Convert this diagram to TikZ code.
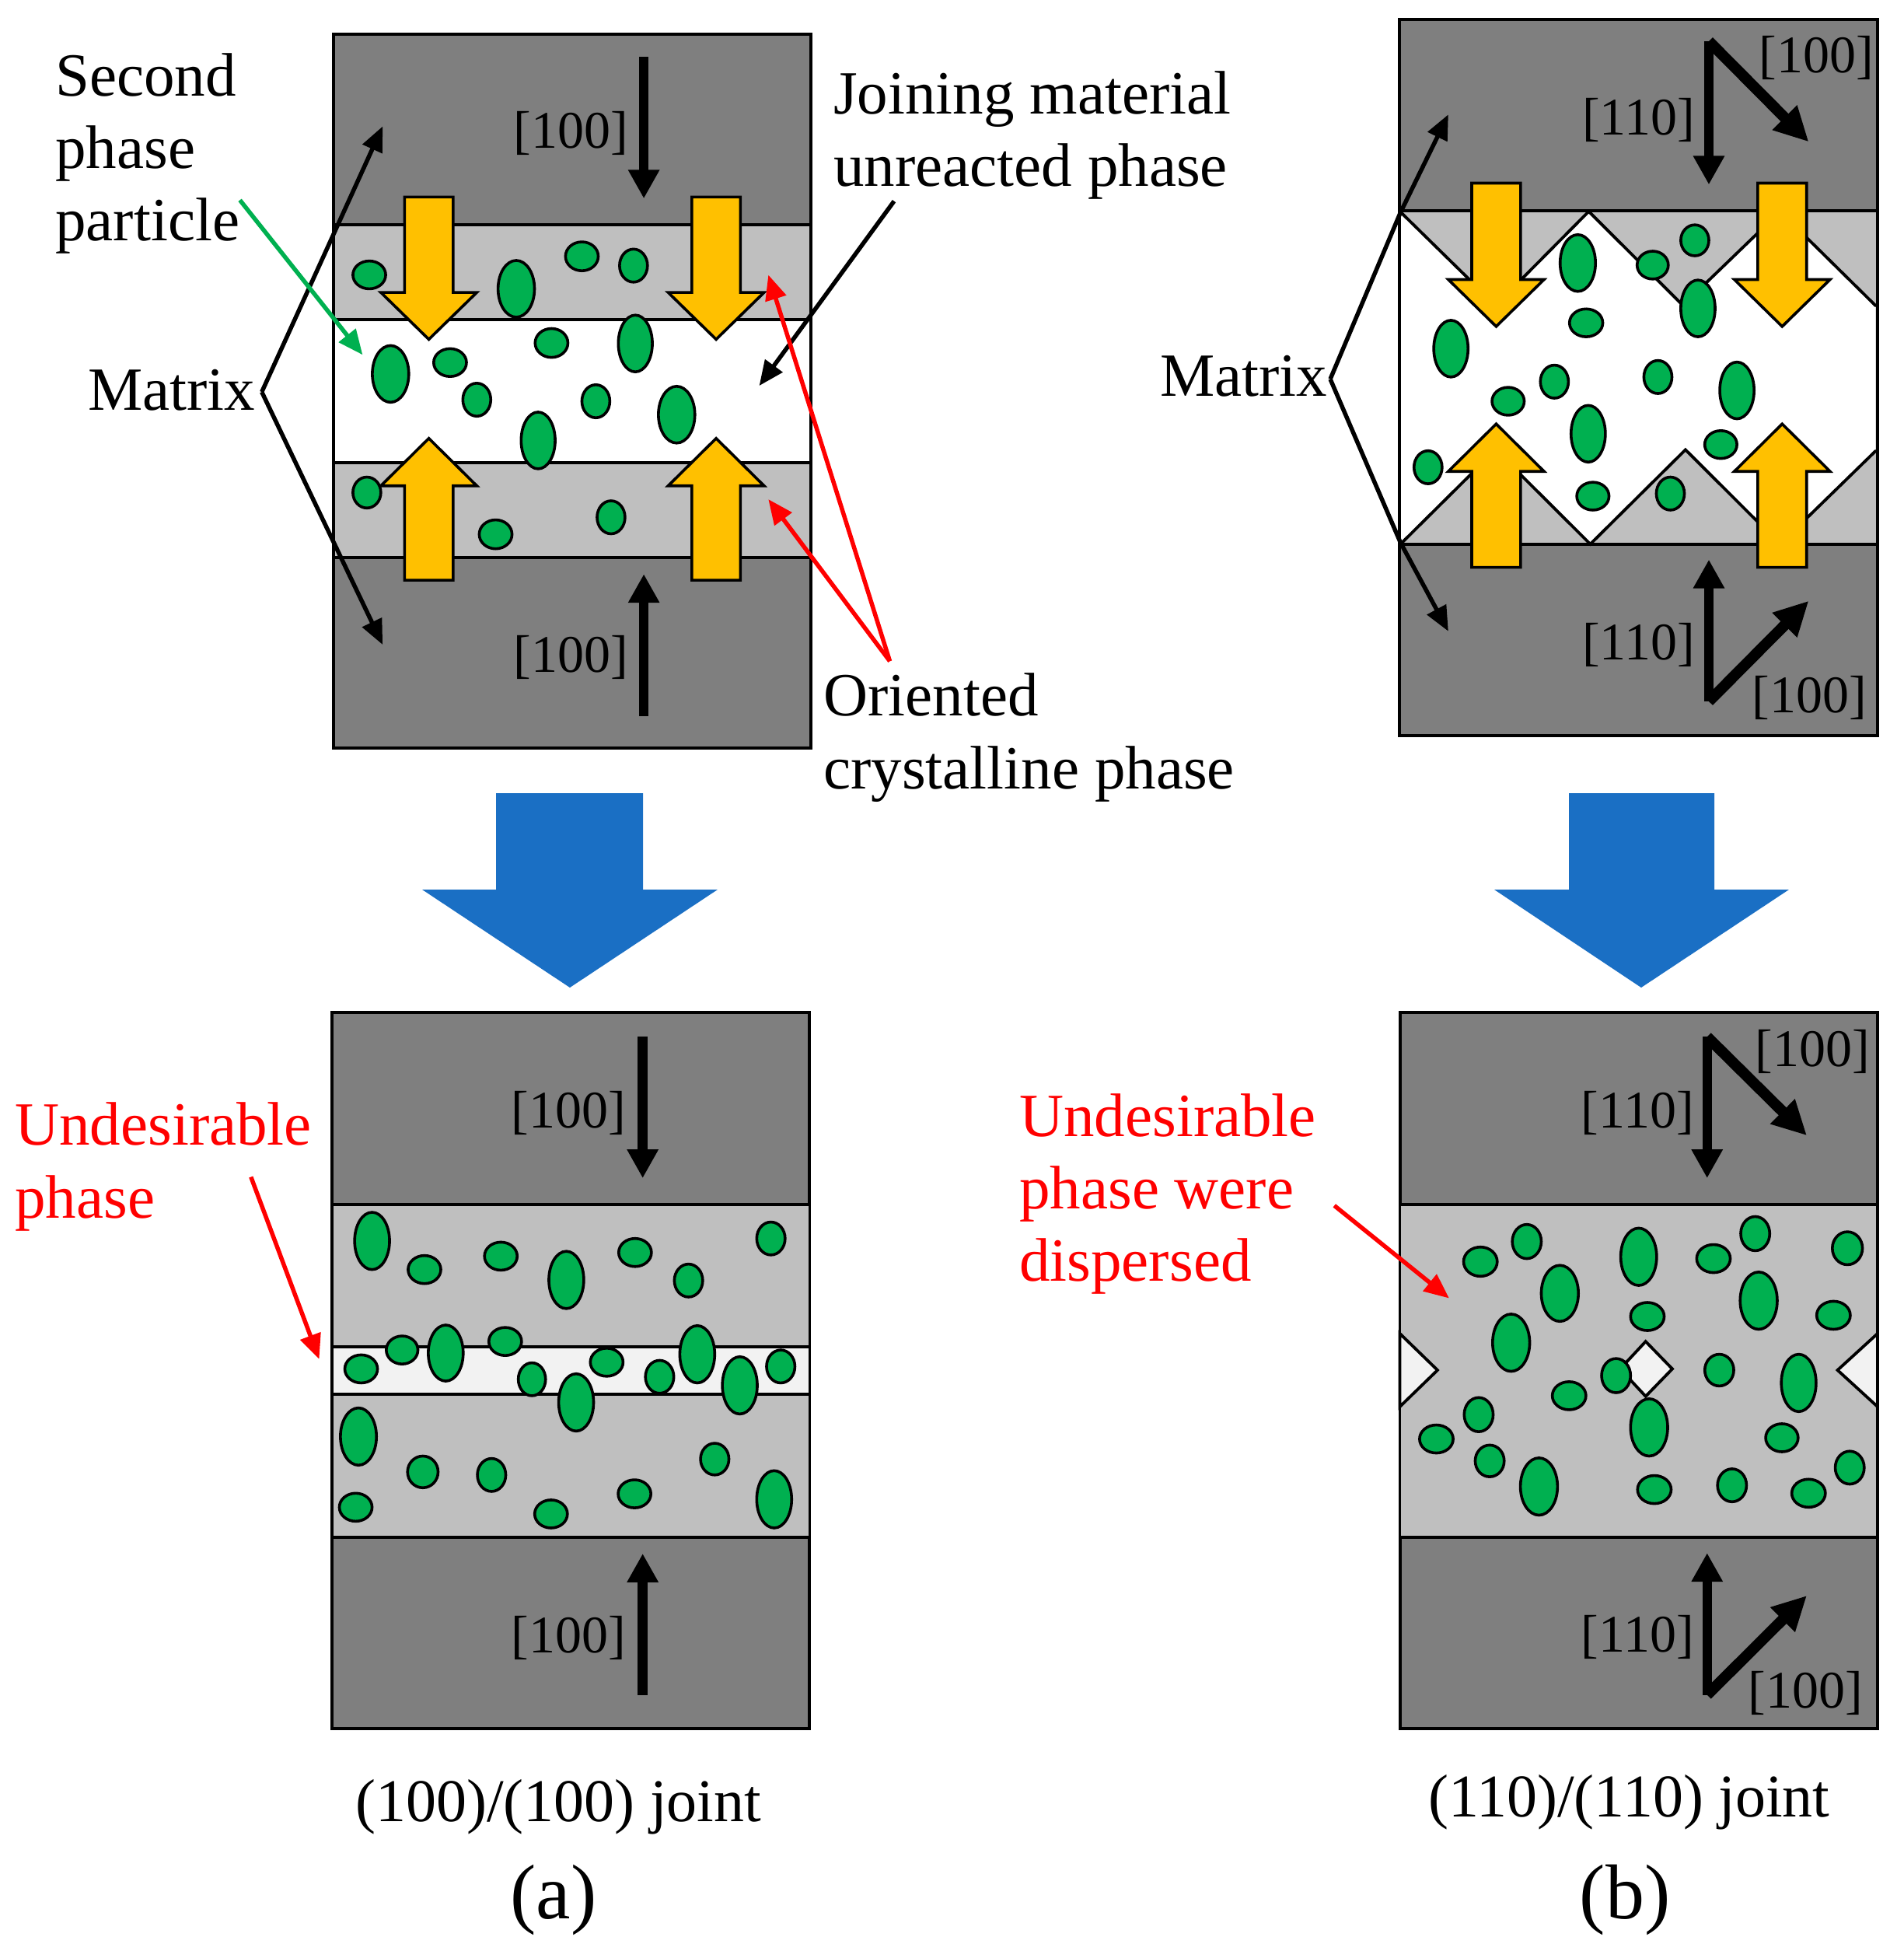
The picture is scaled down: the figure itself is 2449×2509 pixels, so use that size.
\documentclass[tikz,border=0pt]{standalone}
\usepackage{fontspec}
\setmainfont{Liberation Serif}
\usetikzlibrary{arrows.meta}
\definecolor{substrate}{HTML}{7F7F7F}
\definecolor{crystal}{HTML}{BFBFBF}
\definecolor{nearwhite}{HTML}{F2F2F2}
\definecolor{grain}{HTML}{00B050}
\definecolor{pressure}{HTML}{FFC000}
\definecolor{process}{HTML}{1A6FC4}
\definecolor{pure}{HTML}{FF0000}
\tikzset{
  panel/.style={draw=black,line width=4pt,fill=substrate},
  band/.style={draw=black,line width=3.8pt,fill=crystal},
  gap/.style={draw=black,line width=3.8pt,fill=white},
  grainshape/.style={draw=black,line width=3.6pt,fill=grain},
  press/.style={draw=black,line width=3.6pt,fill=pressure,line join=miter},
  bigarrow/.style={fill=process,draw=none},
  thick axis/.style={draw=black,line width=12.5pt,-{Triangle[length=37pt,width=38pt]}},
  diag axis/.style={draw=black,line width=14pt,-{Triangle[length=44pt,width=42pt]}},
  leader/.style={line width=5.5pt,-{Triangle[length=32pt,width=27pt]}},
  lab/.style={inner sep=0pt,anchor=base west,font=\fontsize{79}{94}\selectfont},
  dir/.style={inner sep=0pt,anchor=center,font=\fontsize{68}{80}\selectfont,text=black},
}
\begin{document}
\begin{tikzpicture}[x=1pt,y=-1pt]
\useasboundingbox[fill=white] (0,0) rectangle (2449,2509);

% ---------- panel (a) top ----------
\begin{scope}[x=0.78125pt,y=-0.66326pt]
\draw[panel] (549,66) rectangle (1335,1450);
\draw[band] (549,436) rectangle (1335,1081);
\draw[gap] (549,620) rectangle (1335,897);
\foreach \c in {706,1179}{
  \draw[press] (\c-40,382) -- (\c+40,382) -- (\c+40,567) -- (\c+79,567) -- (\c,658) -- (\c-79,567) -- (\c-40,567) -- cycle;
  \draw[press] (\c-40,1125) -- (\c+40,1125) -- (\c+40,942) -- (\c+79,942) -- (\c,850) -- (\c-79,942) -- (\c-40,942) -- cycle;
}
\foreach \x/\y/\a/\b in {608/533/27/27,850/560/30/55,958/497/27/28,1043/515/23/32,643/725/30/55,741/703/27/27,908/665/27/28,1046/666/28/55,785/775/23/32,981/778/23/32,1114/804/30/55,886/854/28/55,604/955/23/30,816/1036/27/28,1006/1003/23/32}
  \draw[grainshape] (\x,\y) ellipse [x radius=\a,y radius=\b];
\coordinate (a1d0) at (1060,110); \coordinate (a1d1) at (1060,385);
\coordinate (a1u0) at (1060,1388); \coordinate (a1u1) at (1060,1113);
\draw[thick axis] (a1d0) -- (a1d1);
\draw[thick axis] (a1u0) -- (a1u1);
\node[dir] (a1l1) at (940,258) {[100]};
\node[dir] (a1l2) at (940,1275) {[100]};
\coordinate (a1apex) at (431,760);
\coordinate (a1mt) at (630,245); \coordinate (a1mb) at (630,1250);
\draw[leader] (a1apex) -- (a1mt);
\draw[leader] (a1apex) -- (a1mb);
\coordinate (a1g0) at (395,388); \coordinate (a1g1) at (597,688);
\draw[leader,draw=grain,-{Triangle[length=32pt,width=27pt,fill=grain]}] (a1g0) -- (a1g1);
\coordinate (a1k0) at (1472,390); \coordinate (a1k1) at (1250,748);
\draw[leader] (a1k0) -- (a1k1);
\coordinate (a1r0) at (1465,1282); \coordinate (a1r1) at (1265,533); \coordinate (a1r2) at (1265,968);
\draw[leader,draw=pure,-{Triangle[length=32pt,width=27pt,fill=pure]}] (a1r0) -- (a1r1);
\draw[leader,draw=pure,-{Triangle[length=32pt,width=27pt,fill=pure]}] (a1r0) -- (a1r2);
\end{scope}

% ---------- panel (b) top ----------
\begin{scope}[xshift=1400pt,x=0.66890pt,y=-0.66326pt]
\draw[panel] (598,37) rectangle (1517,1427);
\draw[band] (598,409) rectangle (1517,1055);
\draw[gap,line join=miter] (598,409) -- (783,592) -- (962,410) -- (1143,592) -- (1330,410) -- (1513,592) -- (1517,592) -- (1517,875) -- (1513,875) -- (1330,1055) -- (1148,872) -- (965,1055) -- (783,872) -- (600,1055) -- (598,1055) -- cycle;
\foreach \c in {784,1334}{
  \draw[press] (\c-47,355) -- (\c+47,355) -- (\c+47,542) -- (\c+92,542) -- (\c,633) -- (\c-92,542) -- (\c-47,542) -- cycle;
  \draw[press] (\c-47,1100) -- (\c+47,1100) -- (\c+47,914) -- (\c+92,914) -- (\c,822) -- (\c-92,914) -- (\c-47,914) -- cycle;
}
\foreach \x/\y/\a/\b in {941/510/34/55,1166/466/27/30,1085/514/30/27,1172/598/33/55,957/626/32/27,697/676/33/55,896/740/27/32,807/778/31/27,1095/731/27/32,1247/757/33/55,961/841/33/55,1216/862/31/27,653/906/27/32,970/962/31/27,1119/957/27/32}
  \draw[grainshape] (\x,\y) ellipse [x radius=\a,y radius=\b];
\coordinate (b1o) at (1193,80); \coordinate (b1d) at (1193,358); \coordinate (b1e) at (1385,275);
\coordinate (b1p) at (1193,1360); \coordinate (b1u) at (1193,1085); \coordinate (b1f) at (1385,1165);
\draw[thick axis] (b1o) -- (b1d);
\draw[diag axis] (b1o) -- (b1e);
\draw[thick axis] (b1p) -- (b1u);
\draw[diag axis] (b1p) -- (b1f);
\node[dir] (b1l1) at (1400,113) {[100]};
\node[dir] (b1l2) at (1058,233) {[110]};
\node[dir] (b1l3) at (1058,1250) {[110]};
\node[dir] (b1l4) at (1386,1353) {[100]};
\coordinate (b1apex) at (465,735);
\coordinate (b1kt) at (600,412); \coordinate (b1kb) at (600,1052);
\coordinate (b1mt) at (692,222); \coordinate (b1mb) at (692,1224);
\draw[leader,line join=miter] (b1apex) -- (b1kt) -- (b1mt);
\draw[leader,line join=miter] (b1apex) -- (b1kb) -- (b1mb);
\end{scope}

% ---------- panel (a) bottom ----------
\begin{scope}[yshift=-1280pt,x=0.70175pt,y=-0.78370pt]
\draw[panel] (608,28) rectangle (1484,1203);
\draw[band] (608,343) rectangle (1484,889);
\draw[gap,fill=nearwhite] (608,577) rectangle (1484,655);
\foreach \x/\y/\a/\b in {682/403/32/47,778/450/30/23,918/428/30/23,1038/467/32/47,1164/422/30/23,1262/468/26/27,1413/399/26/27,662/613/30/23,737/582/29/23,817/587/32/46,926/568/30/23,975/630/25/27,1112/602/30/23,1209/626/26/27,1278/589/32/47,1356/640/32/47,1431/609/26/27,1056/668/32/47,657/724/33/47,775/782/28/26,901/787/26/27,652/840/30/23,1010/851/30/23,1163/818/30/23,1310/761/26/26,1419/827/32/47}
  \draw[grainshape] (\x,\y) ellipse [x radius=\a,y radius=\b];
\coordinate (a2d0) at (1178,68); \coordinate (a2d1) at (1178,300);
\coordinate (a2u0) at (1178,1148); \coordinate (a2u1) at (1178,916);
\draw[thick axis] (a2d0) -- (a2d1);
\draw[thick axis] (a2u0) -- (a2u1);
\node[dir] (a2l1) at (1042,193) {[100]};
\node[dir] (a2l2) at (1042,1055) {[100]};
\coordinate (a2r0) at (460,298); \coordinate (a2r1) at (585,597);
\draw[leader,draw=pure,-{Triangle[length=32pt,width=27pt,fill=pure]}] (a2r0) -- (a2r1);
\end{scope}

% ---------- panel (b) bottom ----------
\begin{scope}[xshift=1280pt,yshift=-1280pt,x=0.74571pt,y=-0.78370pt]
\draw[panel] (698,28) rectangle (1522,1203);
\draw[band] (698,343) rectangle (1522,889);
\draw[gap,fill=nearwhite,line join=miter] (698,555) -- (763,615) -- (698,675) -- cycle;
\draw[gap,fill=nearwhite,line join=miter] (1522,555) -- (1453,615) -- (1522,675) -- cycle;
\draw[gap,fill=nearwhite,line join=miter] (1122,568) -- (1168,613) -- (1122,658) -- (1078,613) -- cycle;
\foreach \x/\y/\a/\b in {837/437/29/24,917/404/25/28,974/489/32/46,890/570/32/47,1110/429/31/47,1125/527/29/23,1239/432/29/23,1311/391/25/28,1470/415/26/27,1317/501/32/47,1446/525/29/23,1249/615/25/26,1386/636/30/47,1071/624/25/28,990/657/29/23,834/688/25/28,761/728/29/23,853/764/25/26,1128/709/32/47,938/806/32/47,1137/811/29/23,1271/804/25/27,1357/726/28/23,1403/817/29/23,1474/775/25/27}
  \draw[grainshape] (\x,\y) ellipse [x radius=\a,y radius=\b];
\coordinate (b2o) at (1228,68); \coordinate (b2d) at (1228,300); \coordinate (b2e) at (1400,230);
\coordinate (b2p) at (1228,1148); \coordinate (b2u) at (1228,915); \coordinate (b2f) at (1400,985);
\draw[thick axis] (b2o) -- (b2d);
\draw[diag axis] (b2o) -- (b2e);
\draw[thick axis] (b2p) -- (b2u);
\draw[diag axis] (b2p) -- (b2f);
\node[dir] (b2l1) at (1410,93) {[100]};
\node[dir] (b2l2) at (1108,193) {[110]};
\node[dir] (b2l3) at (1108,1053) {[110]};
\node[dir] (b2l4) at (1398,1145) {[100]};
\coordinate (b2r0) at (585,345); \coordinate (b2r1) at (783,497);
\draw[leader,draw=pure,-{Triangle[length=32pt,width=27pt,fill=pure]}] (b2r0) -- (b2r1);
\end{scope}

% ---------- blue process arrows ----------
\fill[bigarrow] (638,1020) -- (827,1020) -- (827,1144) -- (923,1144) -- (733,1270) -- (543,1144) -- (638,1144) -- cycle;
\fill[bigarrow] (2018,1020) -- (2205,1020) -- (2205,1144) -- (2301,1144) -- (2111,1270) -- (1922,1144) -- (2018,1144) -- cycle;

% ---------- labels ----------
\node[lab] (t1) at (71,123) {Second};
\node[lab] (t2) at (71,216) {phase};
\node[lab] (t3) at (71,309) {particle};
\node[lab] (t4) at (113,527) {Matrix};
\node[lab] (t5) at (1072,146) {Joining material};
\node[lab] (t6) at (1072,239) {unreacted phase};
\node[lab] (t7) at (1059,920) {Oriented};
\node[lab] (t8) at (1059,1014) {crystalline phase};
\node[lab] (t9) at (1492,509) {Matrix};
\node[lab,text=pure] (t10) at (19,1472) {Undesirable};
\node[lab,text=pure] (t11) at (19,1566) {phase};
\node[lab,text=pure] (t12) at (1311,1461) {Undesirable};
\node[lab,text=pure] (t13) at (1311,1554) {phase were};
\node[lab,text=pure] (t14) at (1311,1647) {dispersed};
\node[lab,font=\fontsize{78}{94}\selectfont] (t15) at (457,2342) {(100)/(100) joint};
\node[lab,font=\fontsize{78}{94}\selectfont] (t16) at (1837,2336) {(110)/(110) joint};
\node[inner sep=0pt,anchor=base,font=\fontsize{100}{110}\selectfont] (t17) at (712,2467) {(a)};
\node[inner sep=0pt,anchor=base,font=\fontsize{100}{110}\selectfont] (t18) at (2090,2467) {(b)};
\end{tikzpicture}
\end{document}
